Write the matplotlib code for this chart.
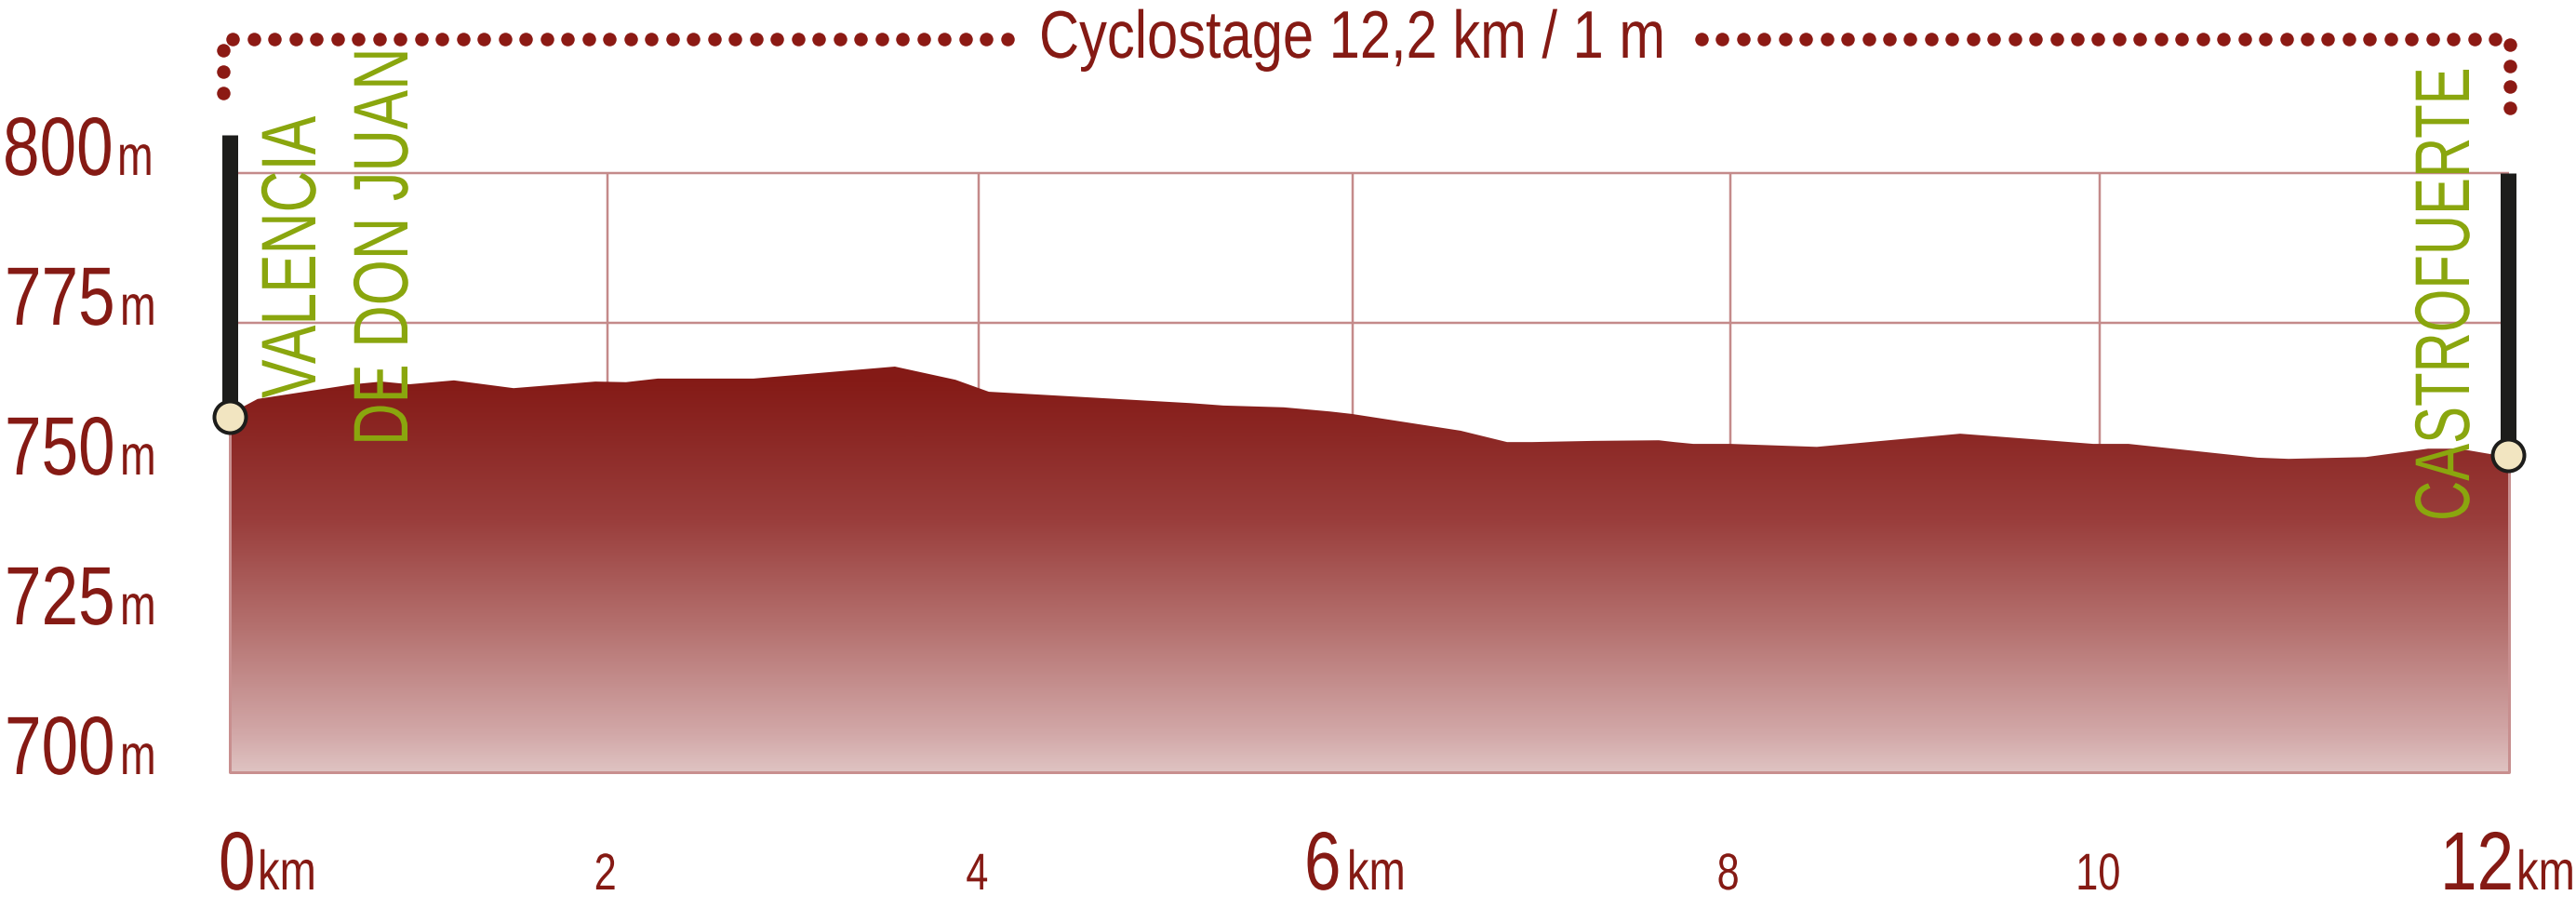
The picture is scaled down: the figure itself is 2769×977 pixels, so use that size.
import numpy as np
import matplotlib
matplotlib.use("Agg")
import matplotlib.pyplot as plt
from matplotlib.colors import LinearSegmentedColormap
from matplotlib.patches import Polygon
from matplotlib.patheffects import AbstractPathEffect
from matplotlib.text import Text
from matplotlib.transforms import Affine2D, Bbox, IdentityTransform, blended_transform_factory, ScaledTranslation

# ---- data ----
km = [0.0, 0.065, 0.149, 0.662, 0.812, 0.961, 1.2, 1.519, 1.957, 2.121, 2.291, 2.554, 2.803,
      3.56, 3.884, 4.063, 5.144, 5.318, 5.642, 5.891, 6.005, 6.588, 6.837, 6.971, 7.3, 7.649,
      7.733, 7.833, 8.032, 8.495, 9.262, 9.725, 9.974, 10.163, 10.855, 11.02, 11.433, 11.767,
      11.931, 12.1, 12.2]
elev = [759.0, 760.9, 762.3, 764.75, 765.2, 764.75, 765.4, 764.1, 765.2, 765.1, 765.7, 765.7, 765.7,
        767.7, 765.5, 763.5, 761.6, 761.2, 760.9, 760.2, 759.8, 757.0, 755.1, 755.1, 755.3, 755.4,
        755.1, 754.8, 754.8, 754.3, 756.5, 755.4, 754.8, 754.8, 752.5, 752.3, 752.6, 754.0,
        754.0, 753.1, 752.6]
y_ticks = [800, 775, 750, 725, 700]
h_grid = [800, 775]
v_grid = [2.02, 4.01, 6.01, 8.03, 10.01]
major_km_ticks = [0.0, 6.01, 12.2]
major_km_labels = ["0", "6", "12"]
minor_km_ticks = [2.02, 4.01, 8.03, 10.01]
minor_km_labels = ["2", "4", "8", "10"]
start_point = (0.0, 759.3)
end_point = (12.195, 753.0)
bar_top_start = 806.4
bar_top_end = 800
title = "Cyclostage 12,2 km / 1 m"
places = ["VALENCIA", "DE DON JUAN", "CASTROFUERTE"]

# ---- style ----
W, H = 2769, 977
RED = "#851A14"
DOT = "#8C1A14"
GREEN = "#8AA60E"
GRID = "#C48A8A"
BLACK = "#1D1D1B"
CREAM = "#F2E5C1"
FONT = "Liberation Sans"
px2pt = 72 / 100


class Squeeze(AbstractPathEffect):
    """Narrow the glyphs along the text direction (condensed face)."""
    def __init__(self, sx):
        super().__init__()
        self.sx = sx

    def draw_path(self, renderer, gc, tpath, affine, rgbFace=None):
        renderer.draw_path(gc, tpath, Affine2D().scale(self.sx, 1) + affine, rgbFace)


class CondensedText(Text):
    def __init__(self, x, y, s, sx=1.0, **kw):
        kw.setdefault("ha", "left")
        kw.setdefault("va", "baseline")
        super().__init__(x, y, s, family=FONT, clip_on=False, path_effects=[Squeeze(sx)], **kw)
        self._sx = sx

    def get_window_extent(self, renderer=None, dpi=None):
        b = super().get_window_extent(renderer, dpi)
        if self.get_rotation() == 90:
            return Bbox.from_extents(b.x0, b.y0, b.x1, b.y0 + b.height * self._sx)
        return Bbox.from_extents(b.x0, b.y0, b.x0 + b.width * self._sx, b.y1)


fig = plt.figure(figsize=(W / 100, H / 100), dpi=100, facecolor="white")
ax = fig.add_axes([247 / W, 1 - 830 / H, (2697 - 247) / W, (830 - 186) / H])
ax.set_xlim(0, 12.2)
ax.set_ylim(700, 800)
ax.axis("off")


def P(x, y):
    return (x, H - y)


def shift(dx, dy=0):
    return ScaledTranslation(dx / 100, dy / 100, fig.dpi_scale_trans)


id_t = IdentityTransform()

# grid
for y in h_grid:
    ax.plot([0, 12.2], [y, y], color=GRID, lw=2.5 * px2pt, zorder=1, solid_capstyle="butt", clip_on=False)
for x in v_grid:
    ax.plot([x, x], [700, 800], color=GRID, lw=2.5 * px2pt, zorder=1, solid_capstyle="butt", clip_on=False)

# gradient area
cmap = LinearSegmentedColormap.from_list("terrain", [
    (0.00, "#841A15"), (0.07, "#851B17"), (0.20, "#8C2825"), (0.40, "#9A3E3C"),
    (0.66, "#B57270"), (0.91, "#D2A8A8"), (1.00, "#DFC3C2")])
grad = np.linspace(0, 1, 512).reshape(-1, 1)
im = ax.imshow(grad, cmap=cmap, extent=[0, 12.2, 700, 770], aspect="auto", zorder=2)
poly = Polygon(list(zip(km, elev)) + [(12.2, 700), (0, 700)], closed=True, transform=ax.transData,
               fc="none", ec="none")
ax.add_patch(poly)
im.set_clip_path(poly)
ax.set_xlim(0, 12.2)
ax.set_ylim(700, 800)
ax.plot([0, 0, 12.2, 12.2], [elev[0], 700, 700, elev[-1]], color="#C88F8F", lw=3 * px2pt, zorder=3, clip_on=False)

# start and finish bars / markers
ax.plot([0, 0], [start_point[1], bar_top_start], color=BLACK, lw=17 * px2pt, solid_capstyle="butt", zorder=4, clip_on=False)
ax.plot([end_point[0], end_point[0]], [end_point[1], bar_top_end], color=BLACK, lw=17 * px2pt, solid_capstyle="butt", zorder=4, clip_on=False)
ax.plot([start_point[0], end_point[0]], [start_point[1], end_point[1]], ls="none", marker="o",
        ms=34 * px2pt, mfc=CREAM, mec=BLACK, mew=4 * px2pt, zorder=5, clip_on=False)

# dotted bracket
top_left = np.arange(250, 1090, 22.5)
top_right = np.arange(2682, 1820, -22.45)
dots_x = np.r_[top_left, top_right, [240] * 3, [2698] * 4]
dots_y = np.r_[[42] * (len(top_left) + len(top_right)), [54, 77, 100], [48, 71, 93, 116]]
ax.scatter(dots_x, H - dots_y, s=(14.5 * px2pt) ** 2, color=DOT, linewidths=0, transform=id_t, clip_on=False, zorder=4)


def add(x, y, s, sx, fs, color=RED, trans=id_t, **kw):
    ax.add_artist(CondensedText(x, y, s, sx=sx, transform=trans, color=color, fontsize=fs, **kw))


# title
add(*P(1117, 62), title, 0.826, 52)

# elevation labels
ytrans = blended_transform_factory(id_t, ax.transData) + shift(0, -2)
num_left = [3, 5, 5, 5, 5]
unit_left = [126, 129, 129, 129, 129]
for v, nx, ux in zip(y_ticks, num_left, unit_left):
    add(nx, v, str(v), 0.80, 64, trans=ytrans)
    add(ux, v, "m", 0.76, 44, trans=ytrans)

# distance labels
xtrans = blended_transform_factory(ax.transData, id_t)
major_dx = [-12, -52, -74]
unit_dx = [30, -6, 8]
for t, lab, dx, ux in zip(major_km_ticks, major_km_labels, major_dx, unit_dx):
    add(t, H - 956, lab, 0.80, 64, trans=xtrans + shift(dx))
    add(t, H - 956, "km", 0.79, 43, trans=xtrans + shift(ux))
minor_dx = [-14, -14, -14, -26]
for t, lab, dx in zip(minor_km_ticks, minor_km_labels, minor_dx):
    add(t, H - 956, lab, 0.78, 40, trans=xtrans + shift(dx))

# place names
place_pos = [(339, 428), (438, 479), (2654, 560)]
place_sx = [0.747, 0.757, 0.718]
for name, (x, y), sx in zip(places, place_pos, place_sx):
    add(*P(x, y), name, sx, 60, color=GREEN, rotation=90, rotation_mode="anchor", zorder=6)

fig.savefig("out.png", dpi=100, facecolor="white")
